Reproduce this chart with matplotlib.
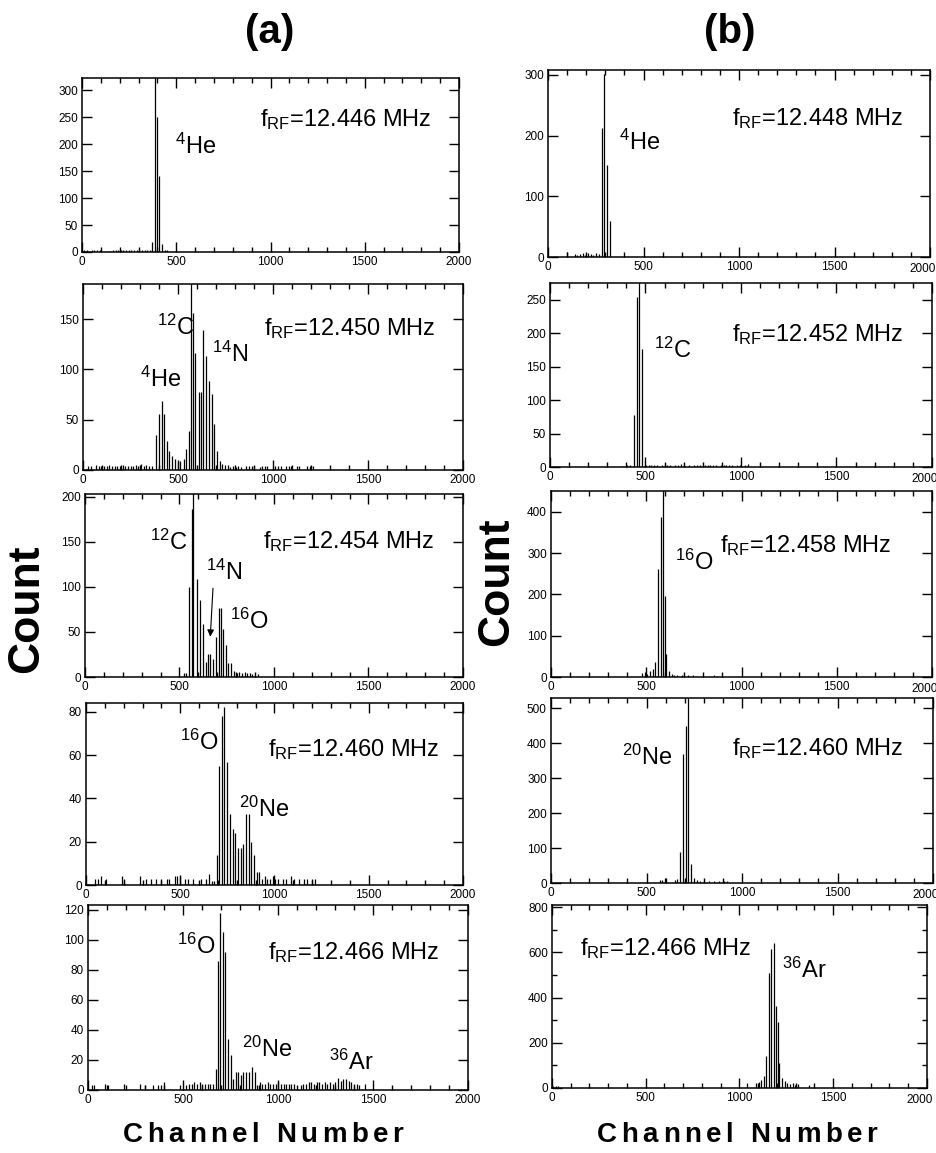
import matplotlib
matplotlib.use('Agg')
import matplotlib.pyplot as plt
from matplotlib.ticker import MultipleLocator, FuncFormatter
from matplotlib.font_manager import FontProperties, findfont, get_font

FONT = 'Liberation Sans'
plt.rcParams['font.family'] = FONT
plt.rcParams['mathtext.fontset'] = 'custom'
plt.rcParams['mathtext.rm'] = FONT
plt.rcParams['mathtext.it'] = FONT + ':italic'
plt.rcParams['mathtext.bf'] = FONT + ':bold'

# --- dane (kanał, zliczenia) ---
a1_ch = [10, 24, 52, 66, 80, 94, 150, 164, 178, 192, 206, 220, 234, 248, 262, 276, 290, 304, 318, 332, 346, 360,
         373, 385, 396, 410, 424, 438, 452]
a1_n = [3, 3, 3, 3, 3, 3, 2, 3, 3, 3, 3, 3, 3, 3, 3, 3, 3, 3, 3, 3, 3, 3,
        18, 340, 251, 142, 15, 4, 3]

a2_ch = [26, 40, 68, 82, 96, 110, 124, 138, 152, 166, 180, 194, 208, 222, 236, 250, 264, 278, 292, 306, 320, 334, 348, 362,
         384, 400, 414, 426, 440, 455, 470, 485, 499, 513, 529, 543, 557, 578, 592, 608, 622, 634, 648, 663, 677, 691, 705, 719,
         733, 747, 761, 775, 789, 803, 817, 831, 859, 873, 887, 901, 929, 943, 957, 971, 1013, 1027, 1041, 1069, 1083, 1097,
         1125, 1139, 1181, 1195, 1209]
a2_n = [4, 4, 5, 4, 4, 4, 4, 5, 4, 4, 4, 4, 5, 4, 4, 4, 4, 5, 4, 6, 4, 5, 4, 4,
        35, 56, 69, 56, 29, 19, 14, 11, 8, 9, 11, 21, 39, 156, 116, 78, 78, 139, 113, 89, 76, 46, 19, 9,
        6, 5, 5, 3, 4, 3, 4, 3, 4, 4, 4, 4, 3, 4, 4, 4, 4, 4, 4, 4, 4, 4,
        4, 4, 4, 4, 4]
a2_mark = 567

a3_ch = [523, 537, 550, 564, 590, 608, 624, 638, 652, 664, 678, 691, 707, 719, 731, 745, 759, 774, 788, 802, 816, 830,
         844, 858, 872, 886, 914]
a3_n = [4, 4, 100, 186, 109, 85, 59, 17, 26, 26, 20, 44, 77, 77, 53, 35, 15, 15, 7, 4, 5, 4,
        5, 4, 4, 3, 3]
a3_mark = 574

a4_ch = [50, 64, 78, 106, 190, 204, 288, 316, 344, 372, 400, 428, 442, 470, 484, 498, 526, 540, 568, 610, 638, 652, 666,
         680, 694, 708, 720, 734, 748, 763, 778, 793, 807, 821, 835, 849, 863, 877, 892, 906, 920, 934, 948, 962,
         976, 990, 1004, 1018, 1046, 1060, 1088, 1102, 1130, 1158, 1172, 1200, 1214]
a4_n = [3, 3, 4, 3, 4, 3, 4, 3, 3, 3, 3, 3, 3, 4, 4, 4, 3, 3, 3, 3, 3, 5, 2,
        2, 14, 55, 78, 82, 57, 33, 26, 24, 17, 17, 19, 33, 33, 20, 14, 6, 6, 3, 4, 3,
        3, 4, 3, 3, 3, 3, 4, 3, 3, 3, 3, 3, 3]

a5_ch = [20, 34, 90, 104, 188, 272, 300, 342, 370, 384, 398, 482, 518, 532, 546, 560, 574, 588, 602, 616, 630, 644, 658,
         672, 684, 696, 711, 723, 737, 751, 763, 777, 791, 804, 816, 833, 847, 861, 877, 889,
         903, 917, 931, 945, 959, 973, 987, 1001, 1015, 1029, 1043, 1057, 1071, 1085,
         1120, 1134, 1148, 1162, 1176, 1190, 1204, 1218, 1232, 1246, 1260, 1274, 1288, 1302, 1316, 1330, 1344, 1358,
         1372, 1386, 1400, 1414, 1428, 1456]
a5_n = [3, 3, 4, 3, 4, 4, 3, 3, 3, 3, 5, 3, 3, 4, 4, 5, 4, 5, 4, 4, 4, 4, 4,
        14, 86, 118, 105, 92, 34, 23, 7, 12, 12, 10, 12, 12, 12, 15, 12, 3,
        5, 4, 4, 5, 4, 4, 4, 5, 4, 4, 4, 4, 4, 4,
        3, 4, 4, 5, 5, 4, 5, 5, 4, 5, 4, 5, 4, 5, 8, 6, 7, 7,
        6, 5, 4, 4, 3, 4]

b1_ch = [98, 140, 154, 168, 182, 196, 210, 224, 238, 252, 266, 281, 295, 311, 327]
b1_n = [8, 5, 4, 5, 6, 4, 6, 5, 4, 6, 5, 213, 302, 151, 60]

b2_ch = [375, 403, 420, 441, 455, 484, 503, 517, 531, 545, 559, 587, 601, 615, 629, 657, 671, 685, 699, 727,
         755, 769, 783, 811, 825, 839, 853, 867, 895, 909, 923, 937, 951, 979, 993, 1021, 1035]
b2_n = [2, 3, 3, 77, 254, 176, 3, 3, 3, 3, 3, 3, 4, 3, 3, 3, 3, 4, 3, 3,
        3, 3, 3, 3, 3, 3, 3, 3, 3, 3, 3, 3, 3, 3, 3, 3, 4]
b2_mark = 468

b3_ch = [478, 492, 506, 520, 534, 548, 562, 576, 596, 606, 620, 634, 648, 662, 690, 718, 746, 858]
b3_n = [10, 12, 8, 14, 20, 36, 262, 388, 196, 55, 15, 8, 6, 5, 5, 6, 5, 5]
b3_mark = 588

b4_ch = [569, 583, 597, 648, 662, 676, 690, 706, 732, 747, 764, 782, 800, 827, 853, 880, 907, 924]
b4_n = [10, 10, 15, 8, 12, 90, 370, 450, 55, 15, 8, 6, 6, 5, 5, 6, 5, 6]
b4_mark = 716

b5_ch = [5, 19, 33, 1040, 1088, 1102, 1115, 1129, 1143, 1157, 1170, 1183, 1196, 1204, 1213, 1227, 1241, 1255,
         1269, 1283, 1297, 1311, 1369]
b5_n = [10, 10, 8, 20, 20, 25, 37, 51, 140, 510, 615, 640, 365, 290, 110, 45, 30, 20,
        18, 22, 15, 18, 15]

freq_a = ['12.446', '12.450', '12.454', '12.460', '12.466']
freq_b = ['12.448', '12.452', '12.458', '12.460', '12.466']

W, H = 937, 1153
fig = plt.figure(figsize=(W / 100, H / 100), dpi=100)


def box(l, t, r, b):
    return [l / W, 1 - b / H, (r - l) / W, (b - t) / H]


def panel(rect, ch, n, ytop, ystep, yminor=None, mark=None, edge=False):
    ax = fig.add_axes(box(*rect))
    ax.vlines(ch, 0, n, color='k', lw=0.9)
    if mark is not None:
        ax.axvline(mark, color='k', lw=0.9)
    ax.set_xlim(0, 2000)
    ax.set_ylim(0, ytop)
    ax.xaxis.set_major_locator(MultipleLocator(500))
    ax.xaxis.set_minor_locator(MultipleLocator(100))
    ax.yaxis.set_major_locator(MultipleLocator(ystep))
    if yminor:
        ax.yaxis.set_minor_locator(MultipleLocator(yminor))
    ax.tick_params(which='both', direction='in', top=True, right=True,
                   labelsize=8.5, width=1, pad=3)
    ax.tick_params(which='major', length=7)
    ax.tick_params(which='minor', length=3.5)
    for s in ax.spines.values():
        s.set_linewidth(1.1)
    if edge:
        # "2000" przy prawej krawędzi rysunku - dosunięty do lewej
        ax.xaxis.set_major_formatter(FuncFormatter(lambda v, p: '' if v >= 2000 else f'{v:.0f}'))
        ax.annotate('2000', xy=(1, 0), xycoords='axes fraction', xytext=(4, -4.5),
                    textcoords='offset points', ha='right', va='top', fontsize=8.5)
    return ax


def label(ax, x, y, s, size=17):
    ax.text(x, y, s, transform=ax.transAxes, fontsize=size, ha='left', va='baseline')


def freq(ax, x, y, f):
    label(ax, x, y, r'f$_{\mathrm{RF}}$=' + f + ' MHz', 17)


def spaced(cx, base, s, size, gap):
    # tekst z rozstrzelonymi literami (jak w oryginale)
    fp = FontProperties(family=FONT, weight='bold', size=size)
    font = get_font(findfont(fp))
    font.set_size(size, 100)
    adv = [font.load_char(ord(c)).linearHoriAdvance / 65536 for c in s]
    total = sum(adv) + gap * (len(s) - 1)
    x = cx - total / 2
    for c, a in zip(s, adv):
        fig.text(x / W, 1 - base / H, c, fontsize=size, weight='bold', ha='left', va='baseline')
        x += a + gap


# kolumna (a)
ax = panel((82, 78, 459, 252), a1_ch, a1_n, 323, 50)
freq(ax, 0.472, 0.722, freq_a[0])
label(ax, 0.247, 0.565, r'$^{4}$He')

ax = panel((83, 284, 463, 470), a2_ch, a2_n, 185, 50, mark=a2_mark)
freq(ax, 0.475, 0.726, freq_a[1])
label(ax, 0.195, 0.726, r'$^{12}$C')
label(ax, 0.339, 0.582, r'$^{14}$N')
label(ax, 0.151, 0.448, r'$^{4}$He')

ax = panel((85, 494, 463, 677), a3_ch, a3_n, 203, 50, mark=a3_mark)
freq(ax, 0.47, 0.703, freq_a[2])
label(ax, 0.172, 0.693, r'$^{12}$C')
label(ax, 0.319, 0.529, r'$^{14}$N')
label(ax, 0.383, 0.265, r'$^{16}$O')
ax.annotate('', xy=(0.331, 0.205), xytext=(0.339, 0.50), xycoords='axes fraction',
            arrowprops=dict(arrowstyle='-|>', color='k', lw=0.8, mutation_scale=10))

ax = panel((86, 703, 463, 885), a4_ch, a4_n, 84, 20)
freq(ax, 0.484, 0.706, freq_a[3])
label(ax, 0.25, 0.743, r'$^{16}$O')
label(ax, 0.406, 0.376, r'$^{20}$Ne')

ax = panel((88, 905, 468, 1090), a5_ch, a5_n, 123, 20)
freq(ax, 0.475, 0.707, freq_a[4])
label(ax, 0.234, 0.734, r'$^{16}$O')
label(ax, 0.405, 0.181, r'$^{20}$Ne')
label(ax, 0.633, 0.109, r'$^{36}$Ar')

# kolumna (b)
ax = panel((548, 70, 930, 257), b1_ch, b1_n, 308, 100, edge=True)
freq(ax, 0.481, 0.708, freq_b[0])
label(ax, 0.185, 0.573, r'$^{4}$He')

ax = panel((550, 283, 932, 467), b2_ch, b2_n, 275, 50, mark=b2_mark, edge=True)
freq(ax, 0.476, 0.684, freq_b[1])
label(ax, 0.271, 0.593, r'$^{12}$C')

ax = panel((551, 491, 932, 677), b3_ch, b3_n, 450, 100, mark=b3_mark, edge=True)
freq(ax, 0.444, 0.673, freq_b[2])
label(ax, 0.326, 0.578, r'$^{16}$O')

ax = panel((551, 698, 933, 883), b4_ch, b4_n, 530, 100, mark=b4_mark, edge=True)
freq(ax, 0.473, 0.691, freq_b[3])
label(ax, 0.185, 0.638, r'$^{20}$Ne')

ax = panel((552, 905, 927, 1088), b5_ch, b5_n, 810, 200, yminor=100, edge=True)
freq(ax, 0.076, 0.727, freq_b[4])
label(ax, 0.613, 0.60, r'$^{36}$Ar')

# podpisy
fig.text(270 / W, 1 - 32 / H, '(a)', fontsize=29, weight='bold', ha='center', va='center')
fig.text(730 / W, 1 - 32 / H, '(b)', fontsize=29, weight='bold', ha='center', va='center')
fig.text(27 / W, 1 - 609 / H, 'Count', fontsize=32, weight='bold', rotation=90, ha='center', va='center')
fig.text(497 / W, 1 - 582 / H, 'Count', fontsize=32, weight='bold', rotation=90, ha='center', va='center')
spaced(263, 1142, 'Channel Number', 20, 4.5)
spaced(737, 1142, 'Channel Number', 20, 4.5)

fig.savefig('out.png', dpi=100)
